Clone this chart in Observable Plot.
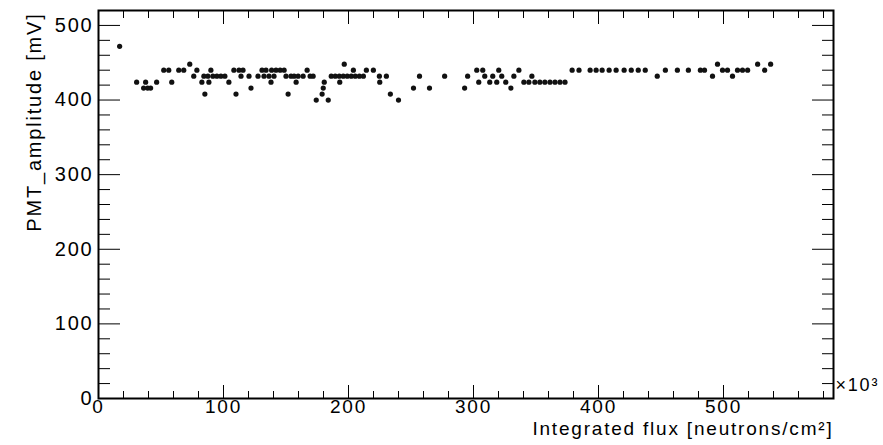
<!DOCTYPE html>
<html><head><meta charset="utf-8">
<script src="https://cdn.jsdelivr.net/npm/d3@7"></script>
<script src="https://cdn.jsdelivr.net/npm/@observablehq/plot@0.6"></script>
<style>html,body{margin:0;padding:0;background:#fff}</style>
</head><body><div id="chart"></div>
<script>
// Integrated flux (x 10^3 neutrons/cm^2)
const flux = [16.9,30.5,36.1,37.7,39.3,41.7,46.5,52.2,56.2,58.6,64.2,68.2,73.0,76.2,78.7,82.7,84.3,85.1,87.5,88.3,89.9,91.5,94.7,97.9,101.1,104.3,108.3,110.0,112.4,114.0,115.6,120.4,122.0,127.6,130.8,132.4,134.0,136.4,138.0,138.5,140.4,142.0,145.3,148.5,150.0,151.7,154.0,156.5,158.1,159.7,163.7,166.9,169.3,171.7,174.2,178.9,179.8,180.6,183.8,186.2,189.4,192.6,193.0,195.8,196.6,199.0,202.2,203.9,205.4,208.7,211.9,214.3,219.9,224.7,225.0,230.3,233.5,240.0,252.0,256.8,264.8,276.9,292.9,295.3,302.6,304.2,307.4,309.0,313.0,315.4,318.6,320.2,322.6,325.8,329.9,332.3,336.3,340.3,344.3,346.7,349.1,353.1,357.1,361.2,365.2,369.2,373.2,378.9,384.4,393.3,398.1,402.9,408.5,414.1,420.5,426.2,431.8,437.4,447.0,453.5,463.1,471.9,481.5,484.8,491.2,495.2,499.2,503.2,507.2,511.2,515.2,519.3,527.3,532.9,537.7];
// PMT amplitude (mV)
const amplitude = [472,424,416,424,416,416,424,440,440,424,440,440,448,432,440,424,432,408,432,424,440,432,432,432,432,424,440,408,440,432,440,432,416,432,440,432,440,432,424,440,432,440,440,440,432,408,432,432,424,432,432,440,432,432,400,408,416,424,400,432,432,432,424,432,448,432,432,440,432,432,432,440,440,432,424,432,408,400,416,432,416,432,416,432,440,424,440,432,424,432,424,440,432,424,416,432,440,424,424,432,424,424,424,424,424,424,424,440,440,440,440,440,440,440,440,440,440,440,432,440,440,440,440,440,432,448,440,440,432,440,440,440,448,440,448];

const xMajor = [0,100,200,300,400,500];
const xMinor = [20,40,60,80,120,140,160,180,220,240,260,280,320,340,360,380,420,440,460,480,520,540,560,580];
const yMajor = [0,100,200,300,400,500];
const yMinor = [20,40,60,80,120,140,160,180,220,240,260,280,320,340,360,380,420,440,460,480,520];

const xTitle = "Integrated flux [neutrons/cm²]";
const yTitle = "PMT_amplitude [mV]";
const xExponent = "×10³";

const points = flux.map((f, i) => ({flux: f, amplitude: amplitude[i]}));
const font = "'Liberation Sans', Arial, Helvetica, sans-serif";

const chart = Plot.plot({
  width: 883, height: 445,
  marginLeft: 98, marginRight: 50, marginTop: 10, marginBottom: 47,
  style: {fontFamily: font, fontSize: "20px", background: "#fff", color: "#000", letterSpacing: "1.8px"},
  x: {domain: [0, 588]},
  y: {domain: [0, 520]},
  marks: [
    Plot.axisX(xMinor, {anchor: "bottom", tickSize: -7, fill: "none", label: null}),
    Plot.axisX(xMajor, {anchor: "bottom", tickSize: -13, tickPadding: 14, fontSize: 19, label: null}),
    Plot.axisX(xMinor, {anchor: "top", tickSize: -7, fill: "none", label: null}),
    Plot.axisX(xMajor, {anchor: "top", tickSize: -13, fill: "none", label: null}),
    Plot.axisY(yMinor, {anchor: "left", tickSize: -12, fill: "none", label: null}),
    Plot.axisY(yMajor, {anchor: "left", tickSize: -22, tickPadding: 27, fontSize: 20, label: null}),
    Plot.axisY(yMinor, {anchor: "right", tickSize: -12, fill: "none", label: null}),
    Plot.axisY(yMajor, {anchor: "right", tickSize: -22, fill: "none", label: null}),
    Plot.frame({stroke: "#000", strokeWidth: 2}),
    Plot.dot(points, {x: "flux", y: "amplitude", r: 2.6, fill: "#111", stroke: null}),
    Plot.text([xTitle], {frameAnchor: "bottom-right", textAnchor: "end", dy: 36, fontSize: 19}),
    Plot.text([xExponent], {frameAnchor: "bottom-right", textAnchor: "start", dx: 2, dy: -8, fontSize: 18}),
    Plot.text([yTitle], {frameAnchor: "top-left", textAnchor: "end", rotate: -90, dx: -72, dy: 2, fontSize: 20})
  ]
});
document.getElementById("chart").appendChild(chart);
</script>
</body></html>
